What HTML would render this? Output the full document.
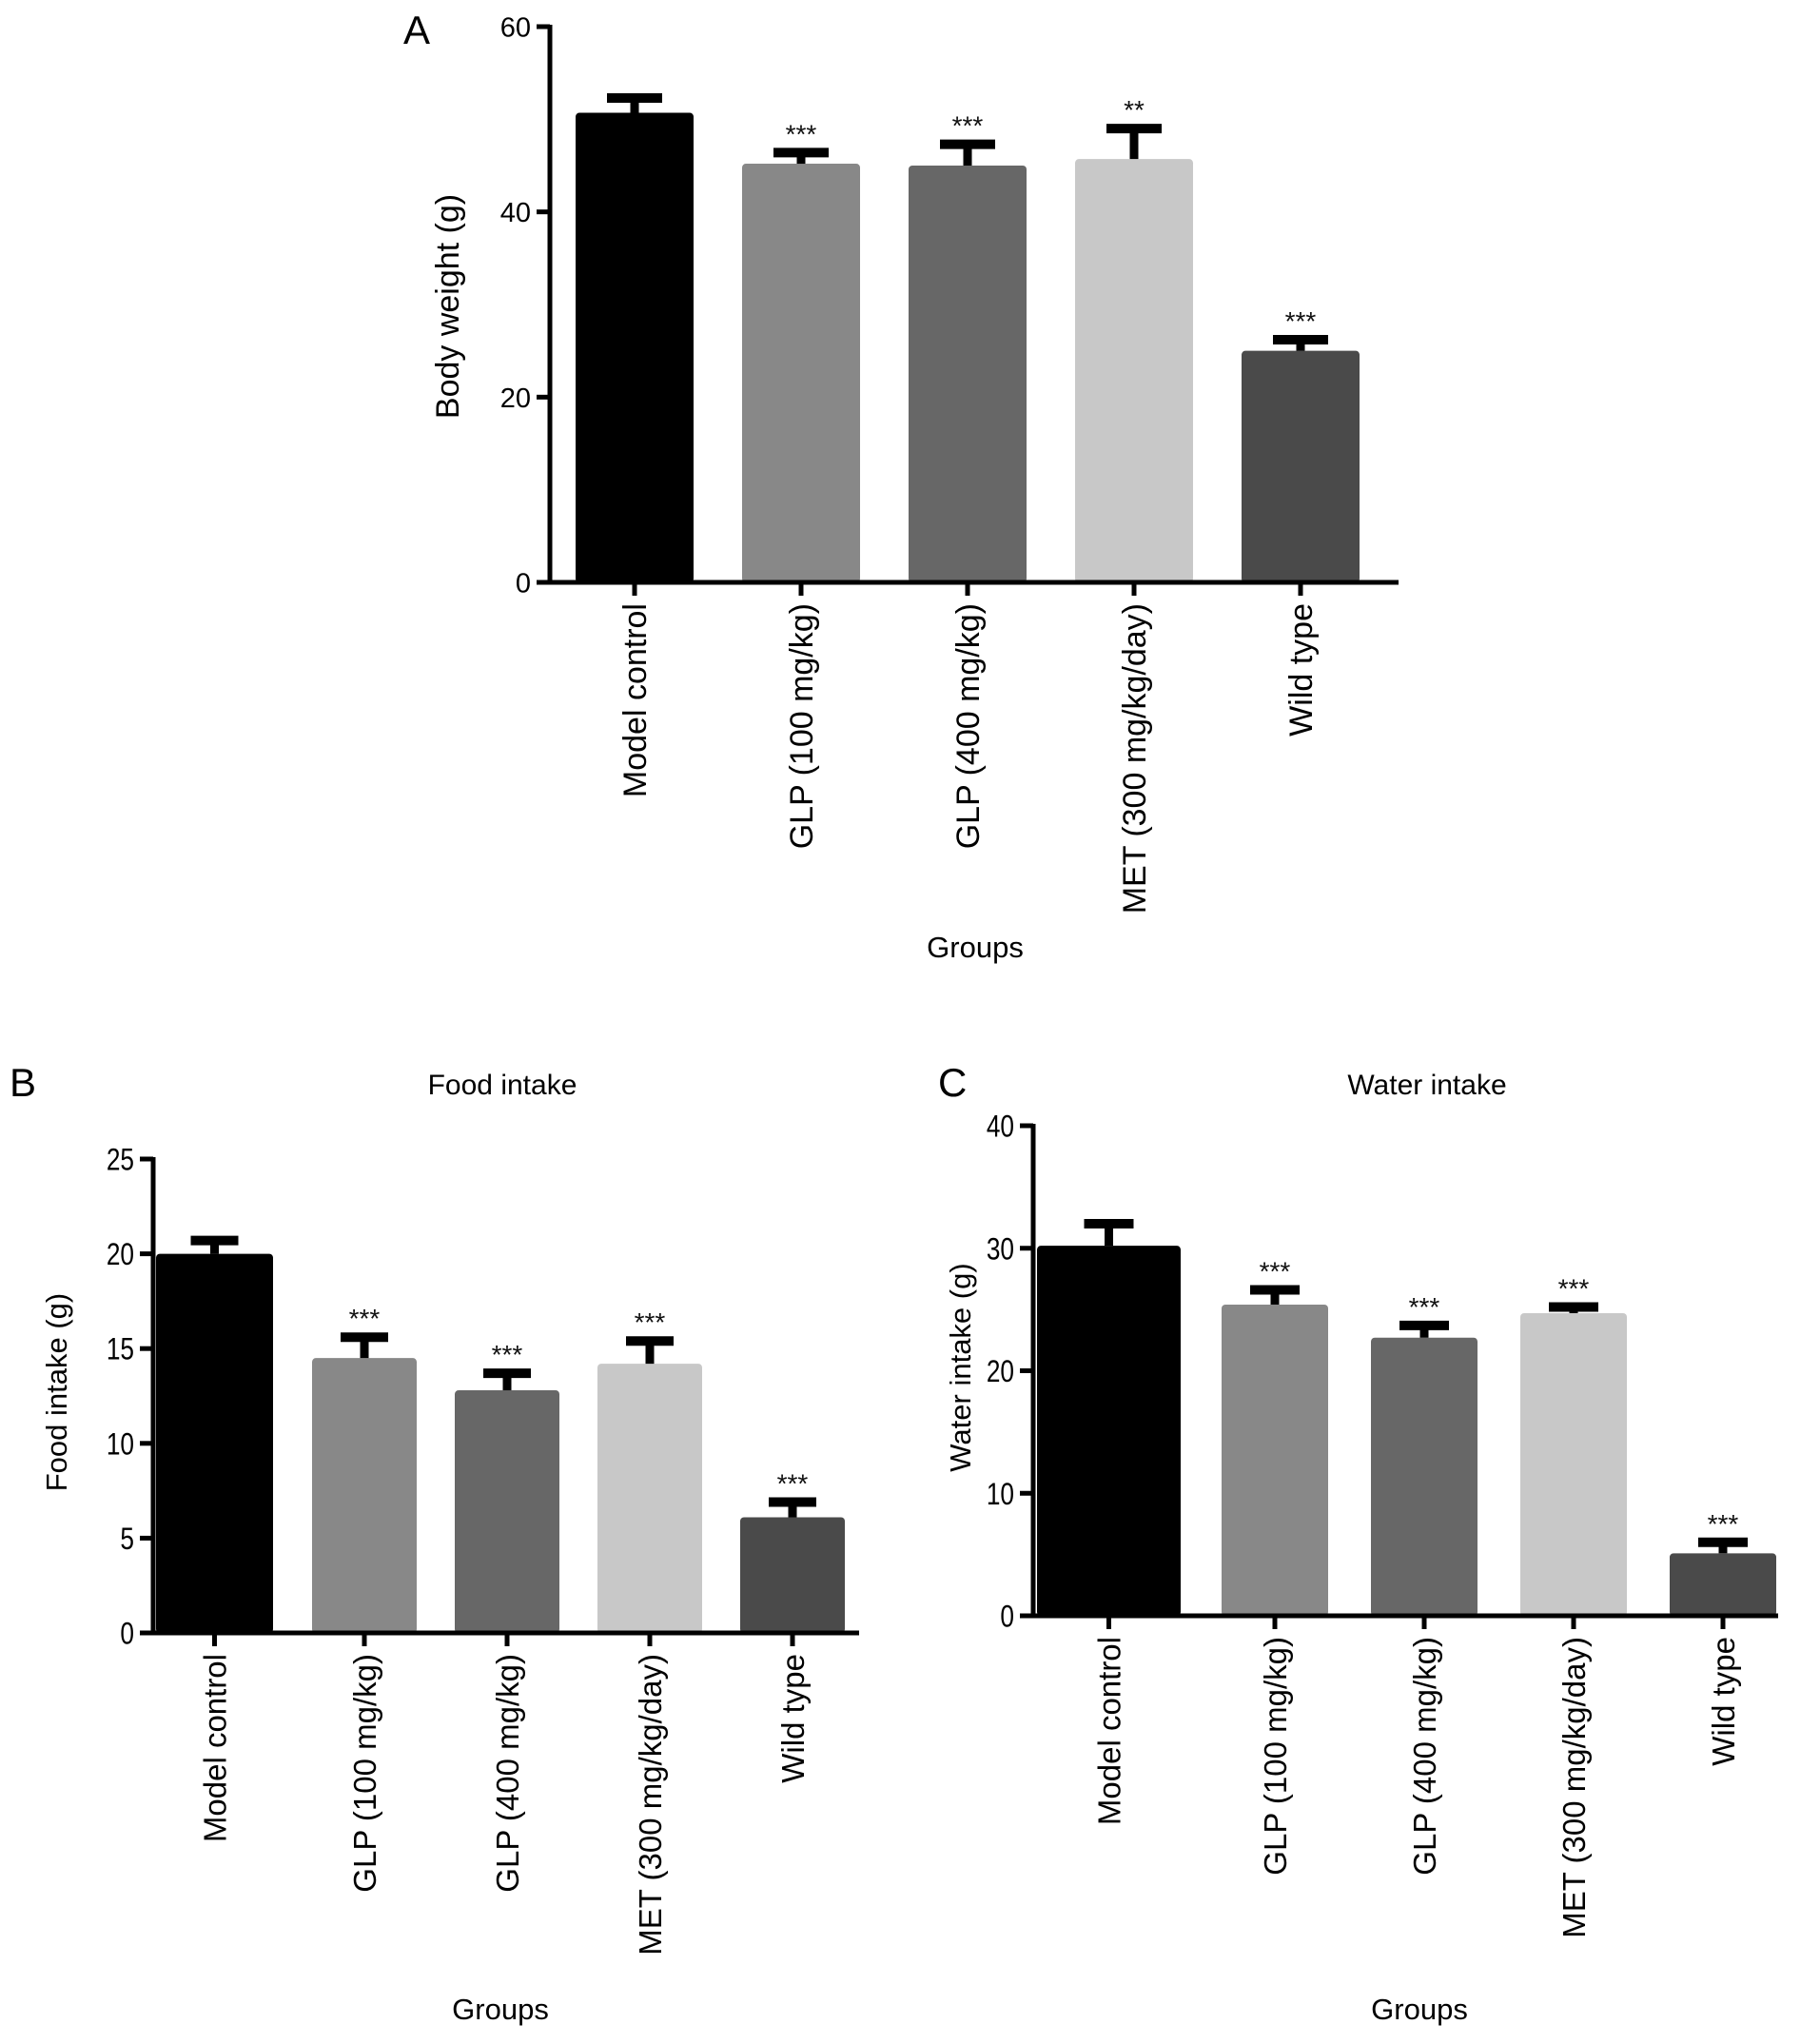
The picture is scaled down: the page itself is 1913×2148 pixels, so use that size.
<!DOCTYPE html>
<html><head><meta charset="utf-8"><style>
html,body{margin:0;padding:0;background:#fff;}
svg{display:block;font-family:"Liberation Sans",sans-serif;}
</style></head><body>
<svg id="fig" width="1913" height="2148" viewBox="0 0 1913 2148" xmlns="http://www.w3.org/2000/svg"></svg>
<script>
const categories = ["Model control","GLP (100 mg/kg)","GLP (400 mg/kg)","MET (300 mg/kg/day)","Wild type"];
const colors = ["#000000","#888888","#676767","#c8c8c8","#4a4a4a"];
const weightMeans = [50.7, 45.2, 45.0, 45.7, 25.0];
const weightErr = [52.3, 46.4, 47.3, 49.0, 26.2];
const weightStars = ["", "***", "***", "**", "***"];
const weightTicks = [0, 20, 40, 60];
const foodMeans = [20.0, 14.5, 12.8, 14.2, 6.1];
const foodErr = [20.7, 15.6, 13.7, 15.4, 6.9];
const foodStars = ["", "***", "***", "***", "***"];
const foodTicks = [0, 5, 10, 15, 20, 25];
const waterMeans = [30.2, 25.4, 22.7, 24.7, 5.1];
const waterErr = [32.0, 26.6, 23.7, 25.2, 6.0];
const waterStars = ["", "***", "***", "***", "***"];
const waterTicks = [0, 10, 20, 30, 40];

const svg = document.getElementById('fig');
const NS = "http://www.w3.org/2000/svg";
function mk(tag, attrs, parent, text){
  const e = document.createElementNS(NS, tag);
  for (const k in attrs) e.setAttribute(k, attrs[k]);
  if (text !== undefined) e.textContent = text;
  (parent || svg).appendChild(e);
  return e;
}

function panel(p){
  const g = mk('g', {});
  
  
  const ymax = p.ticks[p.ticks.length-1];
  const y = v => p.zero - (v / ymax) * (p.zero - p.top);
  const bxOf = i => i === 0 ? p.firstBar : p.secondBar + (i-1) * p.step;
  const bwOf = i => i === 0 ? p.firstW : p.bw;
  p.means.forEach((m, i) => {
    const bx = bxOf(i), w = bwOf(i), cx = bx + w/2;
    const r = mk('rect', {x: bx, y: y(m), width: w, height: p.zero - y(m), fill: colors[i], rx: 4}, g);
    
    
    const s = mk('line', {x1: cx, x2: cx, y1: y(m), y2: y(p.err[i]), stroke: "#000", 'stroke-width': 9}, g);
    
    
    const c = mk('line', {x1: cx - p.cap/2, x2: cx + p.cap/2, y1: y(p.err[i]), y2: y(p.err[i]), stroke: "#000", 'stroke-width': 10}, g);
    
    
    if (p.stars[i]) {
      const t = mk('text', {x: cx, y: y(p.err[i]) - 10, 'font-size': 28, 'text-anchor': 'middle', fill: '#111'}, g, p.stars[i]);
      
      
    }
    mk('line', {x1: cx, x2: cx, y1: p.zero, y2: p.zero + 14, stroke: '#000', 'stroke-width': 5}, g);
    const lab = mk('text', {x: 0, y: 0, 'font-size': p.catFs, 'text-anchor': 'end',
      transform: `translate(${cx + p.catFs*0.36},${p.zero + 22}) rotate(-90)`}, g, categories[i]);
    
    
  });
  const ya = mk('line', {x1: p.axisX, x2: p.axisX, y1: p.top - 2, y2: p.zero + 2.5, stroke: '#000', 'stroke-width': 5}, g);
  
  
  const xa = mk('line', {x1: p.axisX - 2.5, x2: p.xEnd, y1: p.zero, y2: p.zero, stroke: '#000', 'stroke-width': 5}, g);
  
  
  p.ticks.forEach(t => {
    mk('line', {x1: p.axisX - 14, x2: p.axisX, y1: y(t), y2: y(t), stroke: '#000', 'stroke-width': 5}, g);
    const sx = p.narrow ? 0.82 : 1;
    const tl = mk('text', {x: 0, y: 0, 'font-size': p.tickFs, 'text-anchor': 'end',
      transform: `translate(${p.axisX - 20},${y(t) + p.tickFs*0.36}) scale(${sx},1)`}, g, String(t));
    
    
  });
  const yt = mk('text', {x: 0, y: 0, 'font-size': p.yTitleFs, 'text-anchor': 'middle',
    transform: `translate(${p.yTitleX},${p.yTitleY}) rotate(-90)`}, g, p.yTitle);
  
  
  const xt = mk('text', {x: p.groupsX, y: p.groupsY, 'font-size': 31, 'text-anchor': 'middle'}, g, 'Groups');
  
  
  const pl = mk('text', {x: p.letterX, y: p.letterY, 'font-size': 42}, g, p.letter);
  
  
  if (p.title) {
    const ct = mk('text', {x: p.titleX, y: p.letterY - 2, 'font-size': 30, 'text-anchor': 'middle'}, g, p.title);
    
    
  }
}

panel({name:'panel-a-body-weight', means: weightMeans, err: weightErr, stars: weightStars, ticks: weightTicks,
  axisX: 578, top: 28, zero: 612, xEnd: 1470, firstBar: 605, firstW: 124, secondBar: 780, step: 175, bw: 124, cap: 58,
  tickFs: 29, catFs: 34, yTitleFs: 34, yTitle: 'Body weight (g)', yTitleX: 482, yTitleY: 322,
  groupsX: 1025, groupsY: 1006, letter: 'A', letterX: 424, letterY: 46});
panel({name:'panel-b-food-intake', means: foodMeans, err: foodErr, stars: foodStars, ticks: foodTicks,
  axisX: 161, top: 1218, zero: 1716, xEnd: 903, firstBar: 164, firstW: 123, secondBar: 328, step: 150, bw: 110, cap: 50,
  tickFs: 32, catFs: 33, yTitleFs: 31, yTitle: 'Food intake (g)', yTitleX: 70, yTitleY: 1463, narrow: true,
  groupsX: 526, groupsY: 2122, letter: 'B', letterX: 10, letterY: 1152, title: 'Food intake', titleX: 528});
panel({name:'panel-c-water-intake', means: waterMeans, err: waterErr, stars: waterStars, ticks: waterTicks,
  axisX: 1086, top: 1183, zero: 1698, xEnd: 1869, firstBar: 1090, firstW: 151, secondBar: 1284, step: 157, bw: 112, cap: 52,
  tickFs: 32, catFs: 33, yTitleFs: 31, yTitle: 'Water intake (g)', yTitleX: 1020, yTitleY: 1437, narrow: true,
  groupsX: 1492, groupsY: 2122, letter: 'C', letterX: 986, letterY: 1152, title: 'Water intake', titleX: 1500});
</script>
</body></html>
